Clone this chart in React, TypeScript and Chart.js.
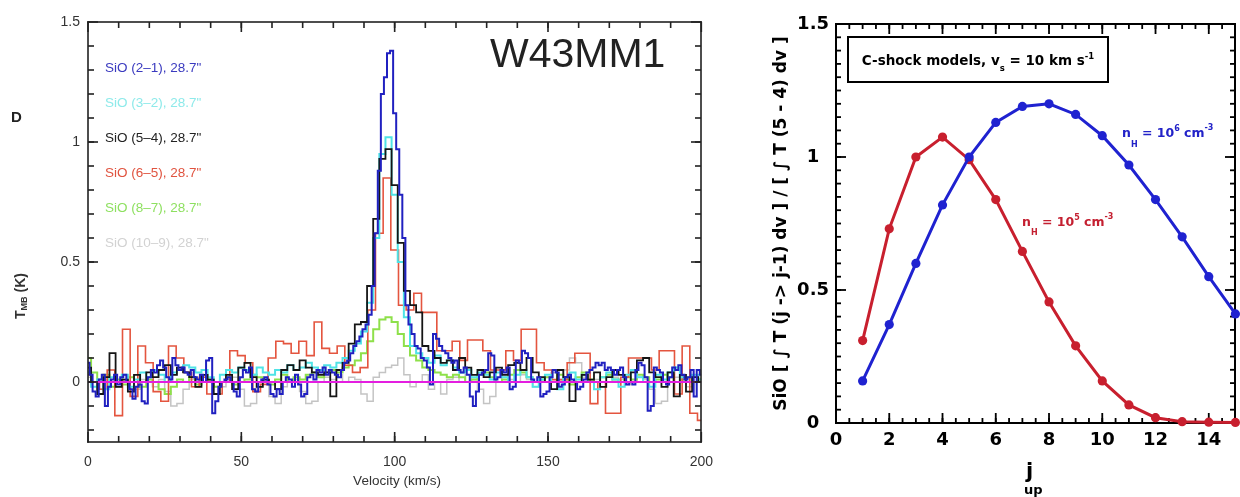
import React, { useEffect, useRef } from 'react';
import { Chart, registerables } from 'chart.js';

Chart.register(...registerables);

// ================= LEFT PANEL DATA (W43MM1 SiO spectra) =================
// channel widths in km/s; first channel at 0 km/s
const DV_21 = 1;
const DV_FINE = 2;
const DV_65 = 2.5;

// SiO (2-1), 1 km/s channels, 0..200 km/s
const sio21 = [
  0.08, 0.03, -0.04, -0.06, 0.01, 0.03, -0.1, -0.02, 0.01, 0.03,
  -0.01, 0.02, 0.03, 0.0, -0.03, -0.07, -0.02, -0.01, -0.08, -0.09,
  0.02, 0.05, 0.04, 0.07, 0.09, 0.06, 0.02, 0.01, 0.1, 0.07,
  0.05, 0.06, 0.04, 0.03, 0.05, 0.02, 0.01, 0.03, 0.0, 0.09,
  0.1, -0.13, -0.08, -0.02, 0.0, 0.01, 0.02, 0.0, -0.04, -0.06,
  0.02, 0.05, 0.04, 0.06, -0.03, -0.04, 0.0, 0.01, 0.02, -0.01,
  -0.05, -0.06, -0.03, -0.05, 0.0, 0.02, 0.01, -0.02, 0.03, -0.01,
  -0.06, -0.05, 0.02, 0.03, 0.01, 0.05, 0.04, 0.06, 0.03, 0.05,
  0.04, 0.03, 0.02, 0.05, 0.08, 0.09, 0.12, 0.15, 0.17, 0.19,
  0.22, 0.24, 0.28, 0.4, 0.62, 0.88, 1.2, 1.27, 1.37, 1.38,
  1.12, 0.97, 0.78, 0.6, 0.32, 0.24, 0.2, 0.15, 0.14, 0.1,
  0.09, 0.06, -0.01, 0.2, 0.18, 0.15, 0.13, 0.12, 0.1, 0.08,
  0.09, 0.05, 0.04, 0.06, 0.03, -0.06, -0.1, -0.04, 0.03, 0.04,
  0.05, 0.12, 0.11, 0.01, 0.02, 0.05, 0.04, 0.06, -0.03, -0.02,
  0.09, 0.08, 0.13, 0.12, 0.1, 0.01, 0.0, 0.02, -0.06, -0.05,
  -0.04, 0.02, 0.05, 0.04, -0.02, -0.01, 0.02, 0.03, 0.01, 0.0,
  -0.03, -0.02, 0.01, 0.04, 0.05, 0.06, 0.08, 0.07, 0.08, 0.05,
  0.06, 0.05, 0.03, 0.05, 0.06, 0.02, -0.01, 0.0, -0.01, 0.05,
  0.08, 0.07, 0.02, -0.12, -0.1, 0.06, 0.05, 0.04, 0.0, -0.01,
  0.02, 0.06, 0.05, 0.07, 0.03, 0.01, 0.02, 0.05, -0.06, 0.05,
  0.03,
];

// SiO (3-2), 2 km/s channels
const sio32 = [
  0.04, -0.02, 0.01, -0.03, 0.02, 0.0, 0.03, -0.02, 0.01, 0.04,
  0.02, 0.05, 0.03, 0.0, 0.04, 0.05, 0.07, 0.06, 0.04, 0.05,
  0.02, 0.0, 0.03, 0.05, 0.04, 0.06, 0.05, 0.03, 0.06, 0.04,
  0.03, 0.05, 0.04, 0.07, 0.05, 0.06, 0.08, 0.06, 0.05, 0.07,
  0.06, 0.08, 0.1, 0.13, 0.16, 0.21, 0.33, 0.6, 0.95, 1.02,
  0.78, 0.5, 0.27, 0.15, 0.12, 0.1, 0.08, 0.11, 0.07, 0.09,
  0.06, 0.04, 0.05, 0.02, 0.04, 0.03, 0.01, 0.04, 0.02, 0.0,
  0.03, 0.05, 0.02, -0.02, 0.01, 0.03, 0.0, -0.03, 0.02, 0.04,
  0.01, 0.03, 0.0, -0.03, 0.02, 0.04, 0.01, -0.02, 0.03, 0.05,
  0.02, 0.0, -0.02, 0.03, 0.01, 0.04, 0.06, 0.02, 0.0, 0.03,
  0.01,
];

// SiO (5-4), 2 km/s channels
const sio54 = [
  0.06, 0.0, -0.05, 0.02, 0.12, -0.02, 0.01, -0.04, 0.03, 0.0,
  0.04, 0.02, 0.05, 0.07, 0.03, 0.06, 0.04, 0.02, -0.02, 0.03,
  0.01, -0.05, 0.0, 0.03, -0.03, 0.06, 0.08, 0.02, -0.02, 0.01,
  0.0, -0.03, 0.05, 0.07, 0.05, 0.09, 0.06, 0.04, 0.03, 0.04,
  -0.06, 0.05, 0.08, 0.16, 0.24, 0.25, 0.4, 0.68, 0.93, 0.97,
  0.82, 0.58, 0.38, 0.32, 0.29, 0.15, 0.13, 0.1, 0.08, 0.09,
  0.05, 0.1, 0.06, 0.03, 0.05, 0.02, 0.04, 0.06, 0.03, 0.07,
  0.08, 0.05, 0.1, 0.04, 0.02, 0.0, -0.03, 0.05, 0.02, -0.08,
  0.0, 0.03, 0.01, 0.04, -0.02, 0.02, 0.05, 0.03, 0.0, 0.04,
  0.09, 0.1, 0.04, 0.02, -0.02, 0.04, -0.06, 0.03, -0.04, 0.02,
  0.0,
];

// SiO (6-5), 2.5 km/s channels
const sio65 = [
  0.03, 0.0, -0.03, 0.05, -0.14, 0.22, -0.06, 0.15,
  0.08, -0.04, -0.08, 0.15, 0.1, 0.04, -0.02, 0.02,
  -0.05, -0.05, 0.0, 0.13, 0.11, 0.08, -0.04, -0.01,
  0.1, 0.17, 0.16, 0.12, 0.17, 0.11, 0.25, 0.14,
  0.12, 0.15, 0.07, 0.04, 0.06, 0.3, 0.62, 0.85,
  0.55, 0.32, 0.3, 0.37, 0.29, 0.29, 0.13, 0.13,
  0.17, 0.09, 0.175, 0.175, 0.13, 0.05, 0.05, 0.13,
  0.09, 0.22, 0.22, 0.08, 0.05, 0.01, 0.01, 0.08,
  0.12, 0.12, -0.09, 0.0, -0.13, -0.13, 0.02, 0.1,
  0.1, 0.1, 0.05, 0.13, 0.13, -0.05, 0.15, -0.13,
  -0.16,
];

// SiO (8-7), 2 km/s channels
const sio87 = [
  0.1, 0.04, 0.0, 0.03, -0.02, 0.01, -0.01, 0.02, 0.0, -0.02,
  0.01, 0.0, -0.03, -0.05, -0.02, 0.01, 0.0, 0.02, -0.01, 0.0,
  0.01, -0.02, 0.0, 0.02, -0.01, 0.0, 0.01, 0.03, 0.02, 0.0,
  -0.01, 0.01, 0.03, 0.0, 0.02, 0.01, 0.03, 0.04, 0.02, 0.04,
  0.05, 0.04, 0.06, 0.07, 0.09, 0.12, 0.17, 0.22, 0.26, 0.27,
  0.25, 0.2, 0.15, 0.11, 0.09, 0.06, 0.05, 0.04, 0.03, 0.02,
  0.03, 0.02, 0.0, 0.01, 0.03, 0.04, 0.02, 0.0, 0.01, 0.03,
  0.05, 0.04, 0.02, 0.0, 0.01, 0.02, 0.0, 0.03, 0.01, -0.01,
  0.02, 0.04, 0.01, 0.0, 0.02, 0.03, 0.01, 0.0, 0.02, 0.01,
  0.03, 0.02, 0.0, 0.01, 0.03, 0.02, 0.0, 0.01, 0.02, 0.0,
  0.01,
];

// SiO (10-9), 2 km/s channels
const sio109 = [
  0.02, 0.0, -0.03, 0.01, 0.0, -0.02, 0.01, 0.0, -0.03, 0.01,
  0.0, -0.02, 0.01, -0.04, -0.1, -0.09, -0.03, 0.01, 0.0, 0.02,
  0.01, 0.0, -0.02, 0.01, 0.02, -0.03, -0.1, -0.09, -0.02, 0.01,
  -0.06, -0.09, -0.02, 0.0, 0.01, -0.04, -0.09, -0.08, 0.0, 0.02,
  0.01, 0.03, 0.0, 0.02, 0.01, -0.05, -0.08, 0.02, 0.04, 0.06,
  0.07, 0.1, 0.03, -0.02, 0.0, 0.03, -0.03, 0.0, -0.05, 0.01,
  0.02, 0.0, 0.03, 0.01, -0.03, -0.09, -0.06, 0.0, 0.02, 0.01,
  0.0, 0.03, 0.01, -0.02, 0.0, 0.02, 0.04, 0.01, 0.05, 0.1,
  0.08, 0.02, 0.0, 0.01, -0.02, 0.0, 0.02, 0.01, -0.01, 0.0,
  0.02, 0.01, -0.03, -0.09, -0.08, 0.0, 0.02, 0.01, -0.02, 0.0,
  0.01,
];

const velTicks = [0, 50, 100, 150, 200];
const tmbTicks = [0, 0.5, 1, 1.5];
const legendLabels = [
  'SiO (2\u20131), 28.7"',
  'SiO (3\u20132), 28.7"',
  'SiO (5\u20134), 28.7"',
  'SiO (6\u20135), 28.7"',
  'SiO (8\u20137), 28.7"',
  'SiO (10\u20139), 28.7"',
];
const legendColors = ['#3a3abf', '#8eeaea', '#222222', '#e0533f', '#8ee060', '#d2d2d2'];

// ================= RIGHT PANEL DATA (C-shock models) =================
const jUp = [1, 2, 3, 4, 5, 6, 7, 8, 9, 10, 11, 12, 13, 14, 15];
const ratioN5 = [0.31, 0.73, 1.0, 1.075, 0.99, 0.84, 0.645, 0.455, 0.29, 0.158, 0.068, 0.02, 0.005, 0.003, 0.002];
const ratioN6 = [0.158, 0.37, 0.6, 0.82, 1.0, 1.13, 1.19, 1.2, 1.16, 1.08, 0.97, 0.84, 0.7, 0.55, 0.41];
const jTicks = [0, 2, 4, 6, 8, 10, 12, 14];
const ratioTicks = [0, 0.5, 1, 1.5];

// ================= helpers =================
const LEFT_W = 725;
const RIGHT_W = 515;
const H = 497;
const RIGHT_OFFSET = 725;

function grid(a: number, b: number, step: number): number[] {
  const out: number[] = [];
  const n = Math.round((b - a) / step);
  for (let i = 0; i <= n; i++) out.push(+(a + i * step).toFixed(6));
  return out;
}

function toPts(vals: number[], dv: number) {
  return vals.map((y, i) => ({ x: i * dv, y }));
}

type Seg = { t: string; size: number; dy?: number };

function richWidth(ctx: CanvasRenderingContext2D, segs: Seg[], family: string, weight: string) {
  let w = 0;
  for (const s of segs) {
    ctx.font = `${weight} ${s.size}px ${family}`;
    w += ctx.measureText(s.t).width;
  }
  return w;
}

function drawRich(
  ctx: CanvasRenderingContext2D,
  segs: Seg[],
  x: number,
  y: number,
  family: string,
  weight: string,
  color: string
) {
  let cx = x;
  ctx.fillStyle = color;
  ctx.textAlign = 'left';
  for (const s of segs) {
    ctx.font = `${weight} ${s.size}px ${family}`;
    ctx.fillText(s.t, cx, y + (s.dy || 0));
    cx += ctx.measureText(s.t).width;
  }
}

type TickSpec = { major: number[]; minor: number[]; majorLen: number; minorLen: number };

function drawFrameAndTicks(chart: any, color: string, lw: number, tw: number, xs: TickSpec, ys: TickSpec) {
  const ctx: CanvasRenderingContext2D = chart.ctx;
  const a = chart.chartArea;
  const sx = chart.scales['x'];
  const sy = chart.scales['y'];
  const L = Math.round(a.left);
  const R = Math.round(a.right);
  const T = Math.round(a.top);
  const B = Math.round(a.bottom);
  ctx.save();
  ctx.fillStyle = color;
  // frame as filled bars
  ctx.fillRect(L - lw / 2, T - lw / 2, R - L + lw, lw);
  ctx.fillRect(L - lw / 2, B - lw / 2, R - L + lw, lw);
  ctx.fillRect(L - lw / 2, T - lw / 2, lw, B - T + lw);
  ctx.fillRect(R - lw / 2, T - lw / 2, lw, B - T + lw);
  // inward ticks on all four sides
  const xTick = (v: number, len: number) => {
    const px = sx.getPixelForValue(v);
    ctx.fillRect(px - tw / 2, B - len, tw, len);
    ctx.fillRect(px - tw / 2, T, tw, len);
  };
  const yTick = (v: number, len: number) => {
    const py = sy.getPixelForValue(v);
    ctx.fillRect(L, py - tw / 2, len, tw);
    ctx.fillRect(R - len, py - tw / 2, len, tw);
  };
  for (let i = 0; i < xs.minor.length; i++) xTick(xs.minor[i], xs.minorLen);
  for (let i = 0; i < xs.major.length; i++) xTick(xs.major[i], xs.majorLen);
  for (let i = 0; i < ys.minor.length; i++) yTick(ys.minor[i], ys.minorLen);
  for (let i = 0; i < ys.major.length; i++) yTick(ys.major[i], ys.majorLen);
  ctx.restore();
}

const SANS = '"Liberation Sans", Arial, sans-serif';
const BOLD_SANS = '"DejaVu Sans", sans-serif';

const leftXTicks: TickSpec = { major: velTicks, minor: grid(10, 190, 10), majorLen: 10, minorLen: 6 };
const leftYTicks: TickSpec = { major: tmbTicks, minor: grid(-0.2, 1.4, 0.1), majorLen: 10, minorLen: 6 };
const rightXTicks: TickSpec = { major: jTicks, minor: grid(0.5, 14.5, 0.5), majorLen: 10, minorLen: 5 };
const rightYTicks: TickSpec = { major: ratioTicks, minor: grid(0.05, 1.45, 0.05), majorLen: 10, minorLen: 5 };

// ================= LEFT PLUGIN =================
const leftPlugin = {
  id: 'leftDecor',
  afterDraw(chart: any) {
    drawFrameAndTicks(chart, '#222', 1.6, 1.6, leftXTicks, leftYTicks);
    const ctx: CanvasRenderingContext2D = chart.ctx;
    ctx.save();
    // legend texts
    ctx.textBaseline = 'middle';
    ctx.textAlign = 'left';
    ctx.font = `13.5px ${SANS}`;
    legendLabels.forEach((lab, i) => {
      ctx.fillStyle = legendColors[i];
      ctx.fillText(lab, 105, 68 + i * 35);
    });
    // title
    ctx.textBaseline = 'alphabetic';
    ctx.font = `41px ${SANS}`;
    ctx.fillStyle = '#222';
    ctx.fillText('W43MM1', 490, 67);
    // cut-off fragment at left edge
    ctx.font = `bold 15px ${SANS}`;
    ctx.textBaseline = 'middle';
    ctx.fillText('D', 11, 118);
    // x title
    ctx.font = `13.5px ${SANS}`;
    ctx.fillStyle = '#333';
    ctx.textAlign = 'center';
    ctx.fillText('Velocity (km/s)', 397, 481);
    // y title (rotated)
    const segs: Seg[] = [
      { t: 'T', size: 14 },
      { t: 'MB', size: 9, dy: 4 },
      { t: ' (K)', size: 14 },
    ];
    ctx.translate(21, 296);
    ctx.rotate(-Math.PI / 2);
    ctx.textBaseline = 'middle';
    const w = richWidth(ctx, segs, SANS, 'bold');
    drawRich(ctx, segs, -w / 2, 0, SANS, 'bold', '#333');
    ctx.restore();
  },
};

// ================= RIGHT PLUGIN =================
const rightPlugin = {
  id: 'rightDecor',
  beforeDatasetsDraw(chart: any) {
    drawFrameAndTicks(chart, '#000', 2, 1.8, rightXTicks, rightYTicks);
  },
  afterDatasetsDraw(chart: any) {
    const ctx: CanvasRenderingContext2D = chart.ctx;
    const a = chart.chartArea;
    ctx.save();
    // label box
    ctx.strokeStyle = '#000';
    ctx.lineWidth = 2;
    ctx.fillStyle = '#fff';
    ctx.fillRect(123, 37, 260, 45);
    ctx.strokeRect(123, 37, 260, 45);
    ctx.textBaseline = 'alphabetic';
    const boxSegs: Seg[] = [
      { t: 'C-shock models, v', size: 13.5 },
      { t: 's', size: 8.5, dy: 6 },
      { t: ' = 10 km s', size: 13.5 },
      { t: '-1', size: 8.5, dy: -6 },
    ];
    const bw = richWidth(ctx, boxSegs, BOLD_SANS, 'bold');
    drawRich(ctx, boxSegs, 253 - bw / 2, 65, BOLD_SANS, 'bold', '#000');
    // curve labels
    const n6: Seg[] = [
      { t: 'n', size: 12.5 },
      { t: 'H', size: 8, dy: 10 },
      { t: ' = 10', size: 12.5 },
      { t: '6', size: 8, dy: -6 },
      { t: ' cm', size: 12.5 },
      { t: '-3', size: 8, dy: -7 },
    ];
    drawRich(ctx, n6, 397, 137, BOLD_SANS, 'bold', '#2222c8');
    const n5: Seg[] = [
      { t: 'n', size: 12.5 },
      { t: 'H', size: 8, dy: 9 },
      { t: ' = 10', size: 12.5 },
      { t: '5', size: 8, dy: -6 },
      { t: ' cm', size: 12.5 },
      { t: '-3', size: 8, dy: -7 },
    ];
    drawRich(ctx, n5, 297, 226, BOLD_SANS, 'bold', '#c41f30');
    // x title j_up
    ctx.font = `bold 21px ${BOLD_SANS}`;
    ctx.fillStyle = '#000';
    ctx.textAlign = 'left';
    ctx.fillText('j', 301, 478);
    ctx.font = `bold 13px ${BOLD_SANS}`;
    ctx.fillText('up', 299, 494);
    // y title rotated
    ctx.translate(57, (a.top + a.bottom) / 2);
    ctx.rotate(-Math.PI / 2);
    ctx.textAlign = 'center';
    ctx.textBaseline = 'middle';
    ctx.font = `bold 17px ${BOLD_SANS}`;
    ctx.fillStyle = '#000';
    ctx.fillText('SiO [ \u222B T (j -> j-1) dv ] / [ \u222B T (5 - 4) dv ]', 0, 0);
    ctx.restore();
  },
};

function LeftChart() {
  const ref = useRef<HTMLCanvasElement>(null);
  useEffect(() => {
    if (!ref.current) return;
    const line = (label: string, vals: number[], dv: number, color: string, width: number) => ({
      label,
      data: toPts(vals, dv),
      borderColor: color,
      backgroundColor: color,
      borderWidth: width,
      pointRadius: 0,
      stepped: 'middle' as const,
      fill: false,
    });
    const chart = new Chart(ref.current, {
      type: 'line',
      data: {
        datasets: [
          {
            label: 'baseline',
            data: [{ x: 0, y: 0 }, { x: 200, y: 0 }],
            borderColor: '#e41ee0',
            borderWidth: 2.2,
            pointRadius: 0,
          },
          line(legendLabels[0], sio21, DV_21, '#2020c0', 2),
          line(legendLabels[2], sio54, DV_FINE, '#151515', 1.8),
          line(legendLabels[1], sio32, DV_FINE, '#4fe3e6', 2),
          line(legendLabels[3], sio65, DV_65, '#e4553f', 1.6),
          line(legendLabels[4], sio87, DV_FINE, '#8ee04a', 2),
          line(legendLabels[5], sio109, DV_FINE, '#c4c4c4', 1.5),
        ] as any,
      },
      options: {
        animation: false,
        responsive: false,
        events: [],
        layout: { padding: { left: 0, right: 21, top: 22, bottom: 0 } },
        plugins: { legend: { display: false }, tooltip: { enabled: false } },
        scales: {
          x: {
            type: 'linear',
            min: 0,
            max: 200,
            grid: { display: false, drawTicks: false },
            border: { display: false },
            ticks: {
              padding: 12,
              color: '#333',
              maxRotation: 0,
              font: { family: SANS, size: 14 },
              callback: (v: any) => String(v),
            },
            afterBuildTicks: (s: any) => {
              s.ticks = velTicks.map((v) => ({ value: v }));
            },
            afterFit: (s: any) => {
              s.height = 55;
            },
          },
          y: {
            type: 'linear',
            min: -0.25,
            max: 1.5,
            grid: { display: false, drawTicks: false },
            border: { display: false },
            ticks: {
              padding: 8,
              color: '#333',
              font: { family: SANS, size: 14 },
              callback: (v: any) => String(v),
            },
            afterBuildTicks: (s: any) => {
              s.ticks = tmbTicks.map((v) => ({ value: v }));
            },
            afterFit: (s: any) => {
              s.width = 88;
            },
          },
        },
      } as any,
      plugins: [leftPlugin],
    });
    return () => chart.destroy();
  }, []);
  return (
    <canvas
      ref={ref}
      width={LEFT_W}
      height={H}
      style={{ position: 'absolute', left: 0, top: 0, width: LEFT_W, height: H }}
    />
  );
}

function RightChart() {
  const ref = useRef<HTMLCanvasElement>(null);
  useEffect(() => {
    if (!ref.current) return;
    const series = (label: string, vals: number[], color: string) => ({
      label,
      data: jUp.map((j, i) => ({ x: j, y: vals[i] })),
      borderColor: color,
      backgroundColor: color,
      pointBackgroundColor: color,
      pointBorderColor: color,
      borderWidth: 3,
      pointRadius: 4.6,
      pointBorderWidth: 0,
      clip: false,
      fill: false,
    });
    const chart = new Chart(ref.current, {
      type: 'line',
      data: {
        datasets: [
          series('n_H = 10^6 cm^-3', ratioN6, '#1f22d0'),
          series('n_H = 10^5 cm^-3', ratioN5, '#c81f2e'),
        ] as any,
      },
      options: {
        animation: false,
        responsive: false,
        events: [],
        layout: { padding: { left: 0, right: 4, top: 24, bottom: 0 } },
        plugins: { legend: { display: false }, tooltip: { enabled: false } },
        scales: {
          x: {
            type: 'linear',
            min: 0,
            max: 15,
            grid: { display: false, drawTicks: false },
            border: { display: false },
            ticks: {
              padding: 7,
              color: '#000',
              maxRotation: 0,
              font: { family: BOLD_SANS, size: 18, weight: 'bold' },
              callback: (v: any) => String(v),
            },
            afterBuildTicks: (s: any) => {
              s.ticks = jTicks.map((v) => ({ value: v }));
            },
            afterFit: (s: any) => {
              s.height = 74;
            },
          },
          y: {
            type: 'linear',
            min: 0,
            max: 1.5,
            grid: { display: false, drawTicks: false },
            border: { display: false },
            ticks: {
              padding: 7,
              crossAlign: 'center',
              color: '#000',
              font: { family: BOLD_SANS, size: 18, weight: 'bold' },
              callback: (v: any) => String(v),
            },
            afterBuildTicks: (s: any) => {
              s.ticks = ratioTicks.map((v) => ({ value: v }));
            },
            afterFit: (s: any) => {
              s.width = 111;
            },
          },
        },
      } as any,
      plugins: [rightPlugin],
    });
    return () => chart.destroy();
  }, []);
  return (
    <canvas
      ref={ref}
      width={RIGHT_W}
      height={H}
      style={{ position: 'absolute', left: RIGHT_OFFSET, top: 0, width: RIGHT_W, height: H }}
    />
  );
}

export default function App() {
  return (
    <div
      style={{
        position: 'absolute',
        left: 0,
        top: 0,
        width: 1240,
        height: H,
        background: '#fff',
        overflow: 'hidden',
      }}
    >
      <LeftChart />
      <RightChart />
    </div>
  );
}
